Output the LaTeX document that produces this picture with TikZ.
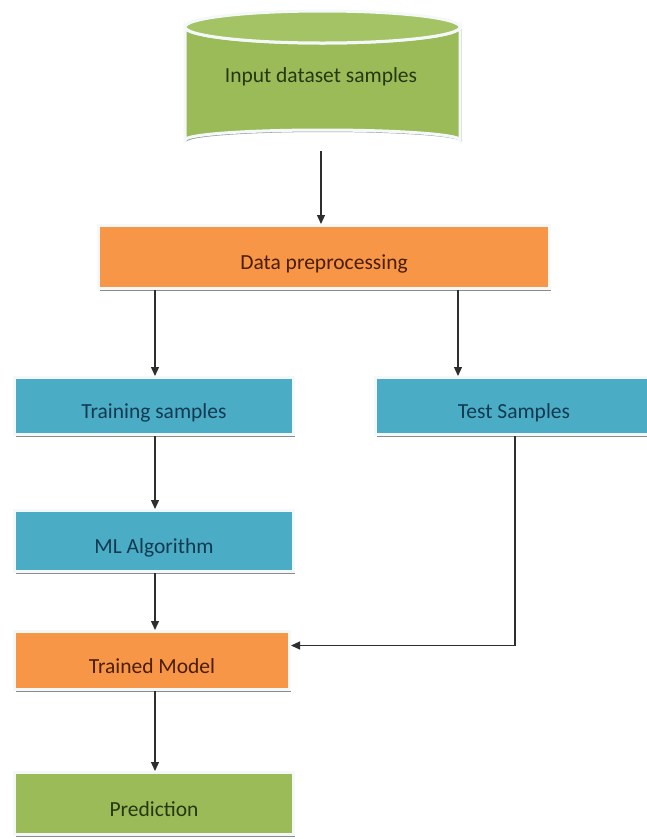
\documentclass[tikz,border=0pt]{standalone}
\usepackage{fontspec}
\setmainfont{Carlito}
\usetikzlibrary{arrows.meta,shadows}

\definecolor{boxgreen}{HTML}{9BBB59}
\definecolor{topgreen}{HTML}{A4C364}
\definecolor{boxorange}{HTML}{F79646}
\definecolor{boxblue}{HTML}{4BACC6}
\definecolor{txtgreen}{HTML}{26380F}
\definecolor{txtorange}{HTML}{4A1D05}
\definecolor{txtblue}{HTML}{133A50}
\definecolor{frame}{HTML}{F4F8F9}
\definecolor{arrowgray}{HTML}{2E2E2E}

\tikzset{
  labelfont/.style={font=\fontsize{21.5}{24}\selectfont},
  box/.style={draw=frame, line width=3pt, inner sep=0pt, labelfont,
    text height=25pt, text depth=0pt,
    drop shadow={shadow xshift=1.5pt, shadow yshift=-2pt, fill=black!45, opacity=1}},
  greenbox/.style={box, fill=boxgreen, text=txtgreen},
  orangebox/.style={box, fill=boxorange, text=txtorange},
  bluebox/.style={box, fill=boxblue, text=txtblue},
  arr/.style={draw=arrowgray, line width=1.2pt, -{Triangle[width=8pt,length=9pt]}}
}

\begin{document}
\begin{tikzpicture}[x=1pt,y=-1pt]
\useasboundingbox[fill=white] (0,0) rectangle (647,839);

% database cylinder: shadow, body, then top face
\fill[black!40] (186.5,29) -- (186.5,142) arc[start angle=180,end angle=360,x radius=137.5,y radius=10]
  -- (461.5,29) -- cycle;
\filldraw[fill=boxgreen, draw=frame, line width=3pt]
  (185,27) -- (185,140) arc[start angle=180,end angle=360,x radius=137.5,y radius=10]
  -- (460,27) arc[start angle=0,end angle=180,x radius=137.5,y radius=16] -- cycle;
\filldraw[fill=topgreen, draw=frame, line width=3pt] (322.5,27) ellipse[x radius=137.5,y radius=16];
\node[text=txtgreen, labelfont] (db) at (321,77) {Input dataset samples};
\coordinate (dbbot) at (321,151);

% process boxes
\node[orangebox, minimum width=451pt, minimum height=63pt] (pre) at (324,257) {Data preprocessing};
\node[bluebox, minimum width=279pt, minimum height=57pt] (train) at (154,406) {Training samples};
\node[bluebox, minimum width=277pt, minimum height=57pt] (test) at (514,406) {Test Samples};
\node[bluebox, minimum width=279pt, minimum height=61pt] (ml) at (154,541) {ML Algorithm};
\node[orangebox, minimum width=275pt, minimum height=58pt] (trained) at (152,660.5) {Trained Model};
\node[greenbox, minimum width=279pt, minimum height=62pt] (pred) at (154,803.5) {Prediction};

% connectors
\draw[arr] (dbbot) -- (dbbot |- pre.north);
\draw[arr] ([xshift=-169pt]pre.south) -- ([xshift=1pt]train.north);
\draw[arr] ([xshift=134pt]pre.south) -- ([xshift=-56pt]test.north);
\draw[arr] ([xshift=1pt]train.south) -- ([xshift=1pt]ml.north);
\draw[arr] ([xshift=1pt]ml.south) -- ([xshift=3pt]trained.north);
\draw[arr] ([xshift=3pt]trained.south) -- ([xshift=1pt]pred.north);
\draw[arr] ([xshift=1pt]test.south) |- ([yshift=15pt]trained.east);
\end{tikzpicture}
\end{document}
